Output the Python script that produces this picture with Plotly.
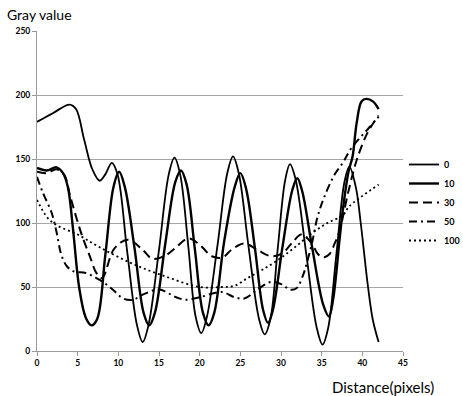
import plotly.graph_objects as go

# ---- data ----
x_s0 = [0, 2, 4, 4.8, 5.8, 6.8, 7.7, 8.4, 9.2, 9.9, 11.1, 12.3, 13, 13.7, 15, 16.2, 16.9, 17.6,
        18.6, 19.5, 20.2, 20.9, 22.2, 23.4, 24.1, 24.8, 26, 27.3, 28, 28.7, 29.6, 30.5, 31.1,
        31.8, 33.1, 34.4, 35.1, 35.8, 36.8, 37.8, 38.4, 39.2, 39.8, 40.7, 41.3, 42]
y_s0 = [179, 186, 192.5, 189, 165, 142, 133, 138, 147, 138, 77, 20, 7, 20, 79, 138, 151, 138,
        82, 27, 14, 27, 83, 139, 152, 139, 82, 25, 13, 25, 80, 133, 146,
        134, 76, 18, 5, 18, 75, 132, 144, 128, 100, 50, 24, 7]

x_s10 = [0, 1.2, 2.4, 3.2, 3.8, 4.4, 5.2, 6, 6.7, 7.4, 8.4, 9.4, 10.1, 10.8, 12, 13.1, 13.8, 14.5,
         15.8, 17, 17.7, 18.4, 19.4, 20.4, 21.1, 21.8, 23, 24.3, 25, 25.7, 26.8, 27.8, 28.4, 29,
         30.2, 31.4, 32, 32.6, 33.8, 35.2, 35.9, 36.4, 37.2, 37.6, 38.3, 38.8, 39.3, 39.9, 40.5,
         41.3, 42]
y_s10 = [143, 141, 143.5, 139, 128, 97, 49, 26, 20, 25, 75, 128, 140, 128, 80, 30, 20, 30,
         85, 132, 141, 130, 80, 30, 20, 30, 85, 128, 139, 127, 80, 32, 22, 32,
         82, 126, 135, 125, 82, 36, 27, 40, 87, 110, 140, 152, 178, 195, 197,
         195, 189]

x_s30 = [0, 1.2, 2.4, 3.4, 4, 4.8, 5.6, 6.5, 7.3, 8, 9.5, 11.2, 13, 14.2, 15.9, 17.1, 18.6, 20,
         21.5, 22.8, 23.9, 25.5, 27.1, 28.8, 30.1, 31.3, 32.5, 33.8, 34.5, 35.2, 36, 36.6, 37.2,
         38.3, 39.3, 40.6, 42]
y_s30 = [140, 139, 142, 137, 123, 105, 89, 74, 61, 57, 80, 87, 79, 72, 75, 81, 88, 83,
         74, 73, 79, 84, 79, 74, 76, 84, 91, 84, 76, 73, 76, 84, 94,
         125, 149, 170, 184]

x_s50 = [0, 0.7, 1.8, 2.4, 3, 3.7, 4.6, 6, 7.3, 8.1, 9.3, 10.6, 11.8, 13, 15, 17.1, 18.3, 20,
         22.7, 24.3, 25.5, 27.1, 28.8, 30.1, 31.1, 31.9, 32.7, 33.1, 33.8, 34.5, 35.3, 36.6, 37.6,
         38.6, 40.9, 42]
y_s50 = [136, 124, 108, 93, 75, 66, 62, 61, 57, 54, 48, 41, 40, 44, 48, 42, 40, 42,
         46, 42, 41, 48, 54, 52, 48, 49, 59, 67, 84, 105, 120, 138, 147,
         158, 175, 183]

x_s100 = [0, 1.3, 2.5, 5, 7.7, 11.8, 15.9, 20, 22.7, 24.3, 25.9, 27.6, 29.6, 31.7, 33.8, 35.7,
          37.6, 38.4, 42]
y_s100 = [118, 104, 98, 91, 81, 68, 58, 50, 50, 51, 57, 63, 71, 81, 92, 100,
          106, 113, 130]

series_names = ["0", "10", "30", "50", "100"]
x_ticks = [0, 5, 10, 15, 20, 25, 30, 35, 40, 45]
y_ticks = [0, 50, 100, 150, 200, 250]

# ---- figure ----
W, H = 463, 396
ML, MR, MT, MB = 37, 0, 31, 45
PW = W - ML - MR            # paper width in px
PH = H - MT - MB            # plot height in px
PLOT_RIGHT = 403            # pixel where x=45 sits
FONT = "Lato"

styles = [
    dict(width=1.8, dash="solid"),
    dict(width=2.4, dash="solid"),
    dict(width=2.0, dash="9px,5px"),
    dict(width=2.0, dash="8px,4px,2px,4px"),
    dict(width=1.8, dash="2px,3px"),
]
xs = [x_s0, x_s10, x_s30, x_s50, x_s100]
ys = [y_s0, y_s10, y_s30, y_s50, y_s100]

fig = go.Figure()
for name, xv, yv, st in zip(series_names, xs, ys, styles):
    fig.add_trace(go.Scatter(
        x=xv, y=yv, name=name, mode="lines",
        line=dict(color="black", width=st["width"], dash=st["dash"], shape="spline", smoothing=1.0),
    ))

tick_font = dict(size=8.5, family=FONT, color="black", weight="bold")

fig.update_layout(
    width=W, height=H,
    margin=dict(l=ML, r=MR, t=MT, b=MB, pad=0, autoexpand=False),
    paper_bgcolor="white", plot_bgcolor="white",
    font=dict(family=FONT, color="black"),
    showlegend=True,
    legend=dict(
        x=(404 - ML) / PW, y=1 - (150 - MT) / PH, xanchor="left", yanchor="top",
        font=dict(size=9, family=FONT, color="black", weight="bold"),
        bgcolor="rgba(0,0,0,0)", borderwidth=0,
        tracegroupgap=0, itemwidth=30,
    ),
    xaxis=dict(
        domain=[0, (PLOT_RIGHT - ML) / PW],
        range=[0, 45], tickvals=x_ticks, ticktext=[str(v) for v in x_ticks],
        showgrid=False, zeroline=False,
        showline=True, linecolor="#9a9a9a", linewidth=1,
        ticks="outside", ticklen=4, tickcolor="#9a9a9a",
        tickfont=tick_font,
    ),
    yaxis=dict(
        range=[0, 250], tickvals=y_ticks, ticktext=[str(v) for v in y_ticks],
        showgrid=True, gridcolor="#a6a6a6", gridwidth=1, zeroline=False,
        showline=True, linecolor="#9a9a9a", linewidth=1,
        ticks="outside", ticklen=4, tickcolor="#9a9a9a",
        tickfont=tick_font,
    ),
    annotations=[
        dict(text="Gray value", xref="paper", yref="paper",
             x=(5 - ML) / PW, y=1 + 16 / PH,
             xanchor="left", yanchor="middle", showarrow=False,
             font=dict(size=14, family=FONT, color="black")),
        dict(text="Distance(pixels)", xref="paper", yref="paper",
             x=(436 - ML) / PW, y=-36 / PH,
             xanchor="right", yanchor="middle", showarrow=False,
             font=dict(size=15, family=FONT, color="black")),
    ],
)

fig.write_html("out.html")
